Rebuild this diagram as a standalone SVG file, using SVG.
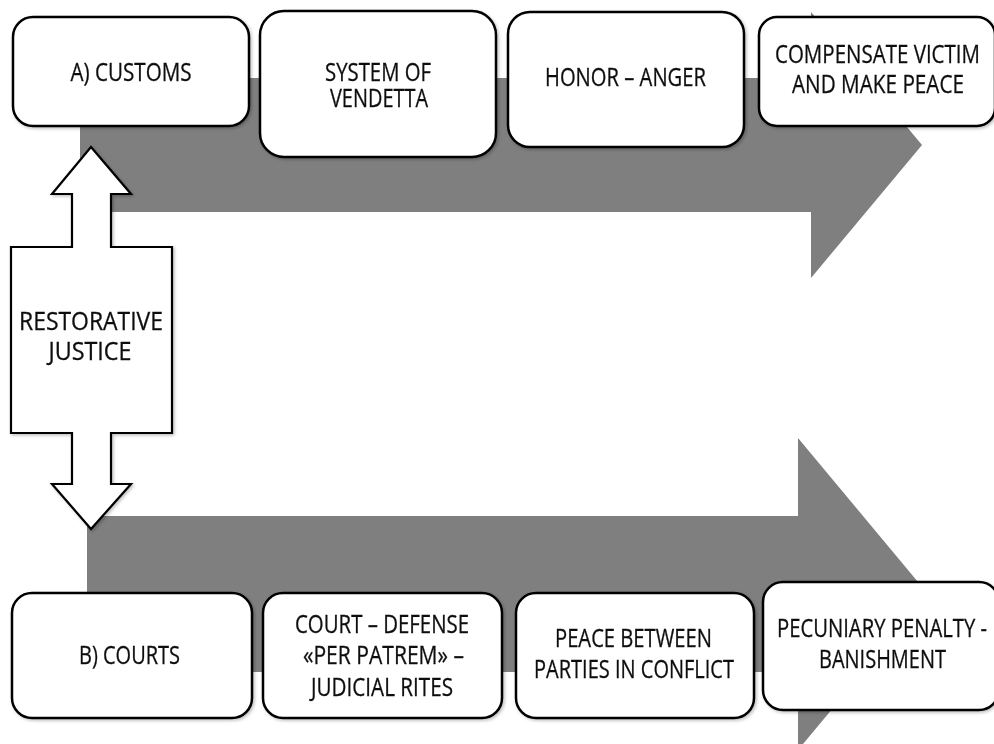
<svg xmlns="http://www.w3.org/2000/svg" width="994" height="744" viewBox="0 0 994 744">
  <defs>
    <filter id="soft" x="-10%" y="-10%" width="120%" height="120%">
      <feDropShadow dx="1.5" dy="1.5" stdDeviation="1.5" flood-color="#000" flood-opacity="0.25"/>
    </filter>
  </defs>
  <style>
    .flow { fill: #7f7f7f; }
    .box { fill: #ffffff; stroke: #000; stroke-width: 2.5; }
    .dbl { fill: #ffffff; stroke: #000; stroke-width: 2.2; stroke-linejoin: miter; }
    text { font-family: "Open Sans", "Liberation Sans", sans-serif; font-size: 25.5px; fill: #111; text-anchor: middle; stroke: #111; stroke-width: 0.3; }
  </style>
  <rect width="994" height="744" fill="#ffffff"/>

  <!-- broad block arrows running left to right -->
  <g id="connectors">
    <polygon class="flow" points="80,78 811,78 811,12 922,145 811,278 811,212 80,212"/>
    <polygon class="flow" points="87,516 798,516 798,438 928,594 798,750 798,672 87,672"/>
  </g>

  <!-- double-headed vertical arrow -->
  <g id="restorative" filter="url(#soft)">
    <polygon class="dbl" points="91,147 131,194 111,194 111,247 172,247 172,433 111,433 111,484 131,484 91,529 52,484 72,484 72,433 11,433 11,247 72,247 72,194 52,194"/>
    <text x="91" y="330" textLength="144" lengthAdjust="spacingAndGlyphs">RESTORATIVE</text>
    <text x="90" y="360" textLength="83" lengthAdjust="spacingAndGlyphs">JUSTICE</text>
  </g>

  <!-- upper row -->
  <g id="customs" filter="url(#soft)">
    <rect class="box" x="13" y="17" width="236" height="109" rx="20"/>
    <text x="131" y="81" textLength="121" lengthAdjust="spacingAndGlyphs">A) CUSTOMS</text>
  </g>
  <g id="vendetta" filter="url(#soft)">
    <rect class="box" x="260" y="11" width="236" height="146" rx="24"/>
    <text x="378" y="81" textLength="106" lengthAdjust="spacingAndGlyphs">SYSTEM OF</text>
    <text x="379" y="107" textLength="98" lengthAdjust="spacingAndGlyphs">VENDETTA</text>
  </g>
  <g id="honor" filter="url(#soft)">
    <rect class="box" x="508" y="12" width="236" height="135" rx="22"/>
    <text x="625.5" y="86" textLength="161" lengthAdjust="spacingAndGlyphs">HONOR – ANGER</text>
  </g>
  <g id="compensate" filter="url(#soft)">
    <rect class="box" x="759" y="17" width="236" height="109" rx="18"/>
    <text x="877.5" y="63" textLength="205" lengthAdjust="spacingAndGlyphs">COMPENSATE VICTIM</text>
    <text x="878" y="93" textLength="172" lengthAdjust="spacingAndGlyphs">AND MAKE PEACE</text>
  </g>

  <!-- lower row -->
  <g id="courts" filter="url(#soft)">
    <rect class="box" x="12" y="593" width="240" height="125" rx="20"/>
    <text x="129.5" y="664" textLength="101" lengthAdjust="spacingAndGlyphs">B) COURTS</text>
  </g>
  <g id="defense" filter="url(#soft)">
    <rect class="box" x="263" y="593" width="239" height="125" rx="20"/>
    <text x="382" y="633" textLength="174" lengthAdjust="spacingAndGlyphs">COURT – DEFENSE</text>
    <text x="383.5" y="664" textLength="161" lengthAdjust="spacingAndGlyphs">«PER PATREM» –</text>
    <text x="382" y="696" textLength="142" lengthAdjust="spacingAndGlyphs">JUDICIAL RITES</text>
  </g>
  <g id="peace" filter="url(#soft)">
    <rect class="box" x="516" y="593" width="238" height="125" rx="20"/>
    <text x="633.5" y="647" textLength="157" lengthAdjust="spacingAndGlyphs">PEACE BETWEEN</text>
    <text x="634" y="678" textLength="200" lengthAdjust="spacingAndGlyphs">PARTIES IN CONFLICT</text>
  </g>
  <g id="pecuniary" filter="url(#soft)">
    <rect class="box" x="763" y="582" width="236" height="128" rx="20"/>
    <text x="882" y="637" textLength="210" lengthAdjust="spacingAndGlyphs">PECUNIARY PENALTY -</text>
    <text x="882.5" y="668" textLength="127" lengthAdjust="spacingAndGlyphs">BANISHMENT</text>
  </g>
</svg>
